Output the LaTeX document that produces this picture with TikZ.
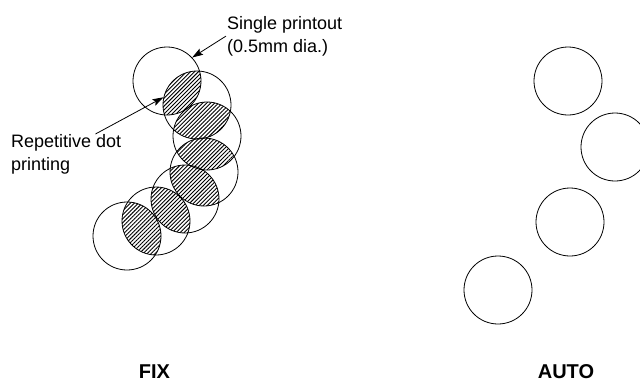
\documentclass[tikz,border=0pt]{standalone}
\usepackage{fontspec}
\setmainfont{Liberation Sans}
\usetikzlibrary{positioning, arrows.meta, backgrounds, patterns.meta}

\begin{document}
\begin{tikzpicture}[
    x=1pt, y=-1pt,
    dot/.style={circle, draw, line width=0.8pt, minimum size=68pt, inner sep=0pt},
    note/.style={align=left, inner sep=0pt, font=\fontsize{18}{23}\selectfont},
    caption/.style={anchor=base, inner sep=0pt, font=\fontsize{20}{24}\selectfont\bfseries},
    hatch/.style={pattern={Lines[angle=45, distance=2.8pt, line width=0.9pt]}},
    arrow/.style={line width=0.8pt, -{Stealth[length=11pt, width=7pt, inset=2pt]}}
]
    \useasboundingbox (0,0) rectangle (640,381);

    % FIX: overlapping dots
    \node[dot] (f1) at (167,81)  {};
    \node[dot] (f2) at (197,105) {};
    \node[dot] (f3) at (207,136) {};
    \node[dot] (f4) at (204,172) {};
    \node[dot] (f5) at (185,199) {};
    \node[dot] (f6) at (156,221) {};
    \node[dot] (f7) at (127,236) {};

    % overlaps
    \begin{scope}[on background layer]
        \begin{scope} \clip (f1.center) circle (34pt); \fill[hatch] (f2.center) circle (34pt); \end{scope}
        \begin{scope} \clip (f2.center) circle (34pt); \fill[hatch] (f3.center) circle (34pt); \end{scope}
        \begin{scope} \clip (f3.center) circle (34pt); \fill[hatch] (f4.center) circle (34pt); \end{scope}
        \begin{scope} \clip (f4.center) circle (34pt); \fill[hatch] (f5.center) circle (34pt); \end{scope}
        \begin{scope} \clip (f5.center) circle (34pt); \fill[hatch] (f6.center) circle (34pt); \end{scope}
        \begin{scope} \clip (f6.center) circle (34pt); \fill[hatch] (f7.center) circle (34pt); \end{scope}
    \end{scope}

    % AUTO: separate dots
    \node[dot] (a1) at (568,81)  {};
    \node[dot] (a2) at (615,147) {};
    \node[dot] (a3) at (570,222) {};
    \node[dot] (a4) at (498,290) {};

    % labels
    \node[note, anchor=north west] (single) at (227,16)  {Single printout\\(0.5mm dia.)};
    \node[note, anchor=north west] (repeat) at (11,134)  {Repetitive dot\\printing};
    \node[caption] (fix)  at (154.5,378) {FIX};
    \node[caption] (auto) at (566,378)   {AUTO};

    \draw[arrow] ([xshift=-1pt]single.west) -- (f1.43);
    \draw[arrow] ([xshift=-26pt]repeat.north east) -- (f2.167);
\end{tikzpicture}
\end{document}
